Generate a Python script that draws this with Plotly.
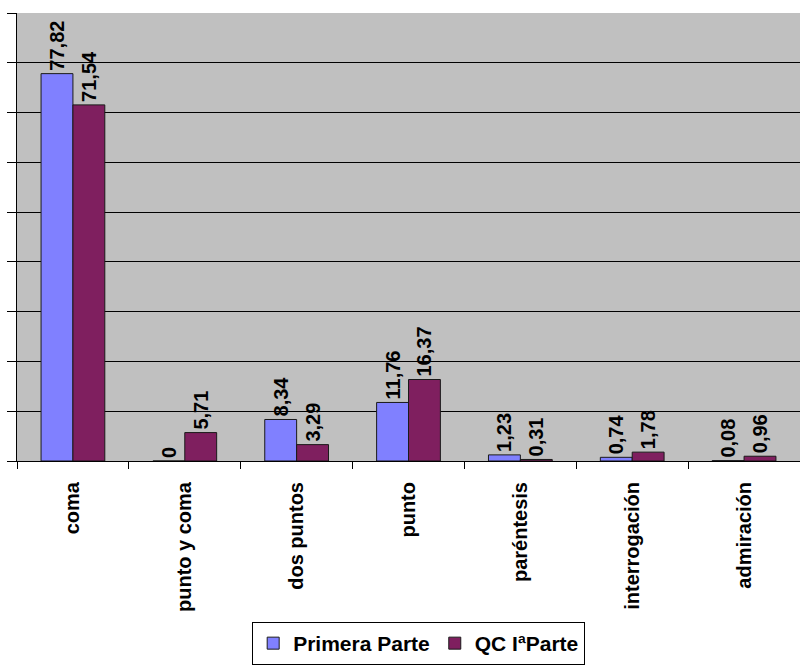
import plotly.graph_objects as go

categories = ["coma", "punto y coma", "dos puntos", "punto", "paréntesis", "interrogación", "admiración"]
primera_parte = [77.82, 0, 8.34, 11.76, 1.23, 0.74, 0.08]
qc_parte = [71.54, 5.71, 3.29, 16.37, 0.31, 1.78, 0.96]
series_names = ["Primera Parte", "QC IªParte"]
colors = ["#8080FF", "#7F1F5F"]

label_font = dict(family="Arial, Liberation Sans, sans-serif", size=20, color="black", weight="bold")

fig = go.Figure()
for name, vals, col in zip(series_names, [primera_parte, qc_parte], colors):
    fig.add_trace(go.Bar(
        x=categories, y=vals, name=name,
        marker=dict(color=col, line=dict(color="#1a1a1a", width=1)),
        texttemplate="%{y}", textposition="outside", textangle=-90,
        textfont=label_font, cliponaxis=False, constraintext="none",
    ))

n = len(categories)
fig.update_layout(
    width=800, height=665,
    margin=dict(l=17, r=0, t=13, b=204),
    paper_bgcolor="white", plot_bgcolor="#C0C0C0",
    separators=",.",
    barmode="group", bargap=0.43, bargroupgap=0,
    showlegend=True,
    legend=dict(
        orientation="h", x=0.513, xanchor="center", y=-0.36, yanchor="top",
        bordercolor="black", borderwidth=1, bgcolor="white",
        font=dict(family="Arial, Liberation Sans, sans-serif", size=21, color="black", weight="bold"),
        traceorder="normal",
    ),
    xaxis=dict(
        type="category", tickangle=-90, tickson="boundaries",
        ticks="outside", ticklen=7, tickcolor="black", tickwidth=1,
        showline=True, linecolor="black", linewidth=1,
        tickfont=label_font, ticklabelstandoff=12,
        showgrid=False,
    ),
    xaxis2=dict(
        overlaying="x", anchor="y", side="bottom", range=[0, n],
        tickmode="array", tickvals=list(range(n + 1)),
        ticks="inside", ticklen=6, tickcolor="black", tickwidth=1,
        showticklabels=False, showgrid=False, showline=False, zeroline=False,
    ),
    yaxis=dict(
        range=[0, 90], dtick=10, showticklabels=False,
        ticks="outside", ticklen=9, tickcolor="black",
        showline=True, linecolor="black", linewidth=1,
        showgrid=True, gridcolor="black", gridwidth=1, zeroline=False,
    ),
)

fig.write_html("out.html")
